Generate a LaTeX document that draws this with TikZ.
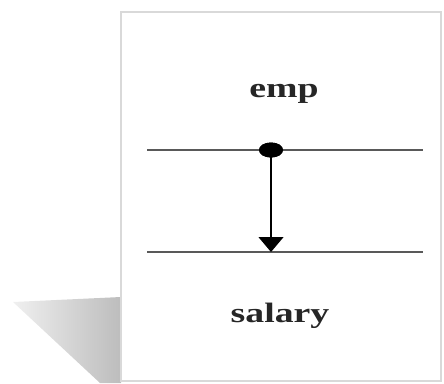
\documentclass[tikz,border=0pt]{standalone}
\usepackage{fontspec}
\setmainfont{Liberation Serif}
\usetikzlibrary{arrows.meta,shapes.geometric}

\begin{document}
\begin{tikzpicture}[x=1pt, y=-1pt,
  attr/.style={font=\bfseries\fontsize{28}{32}\selectfont, xscale=1.35, inner sep=0pt, anchor=base, text=black!85},
  rule/.style={draw=black!65, line width=1.6pt},
  dot/.style={ellipse, fill=black, inner sep=0pt, minimum width=24pt, minimum height=15pt}]
\useasboundingbox (0,0) rectangle (444,383);
% drop shadow at lower left
\shade[left color=black!6, right color=black!26] (13,302) -- (121,297) -- (121,383) -- (100,383) -- cycle;
\draw[draw=black!15, line width=1.5pt, fill=white] (121,12) rectangle (441,381);
% attribute names
\node[attr] (emp) at (284,97) {emp};
\node[attr] (salary) at (280,322) {salary};
% the two rules
\coordinate (a1) at (147,150); \coordinate (a2) at (423,150);
\coordinate (b1) at (147,252); \coordinate (b2) at (423,252);
\draw[rule] (a1) -- (a2);
\draw[rule] (b1) -- (b2);
% dependency arrow
\coordinate (dst) at (271,252);
\node[dot] (src) at (271,150) {};
\draw[-{Triangle[length=15pt,width=25pt]}, line width=1.2pt] (src.center) -- (dst);
\node[dot] at (src) {};
\end{tikzpicture}
\end{document}
